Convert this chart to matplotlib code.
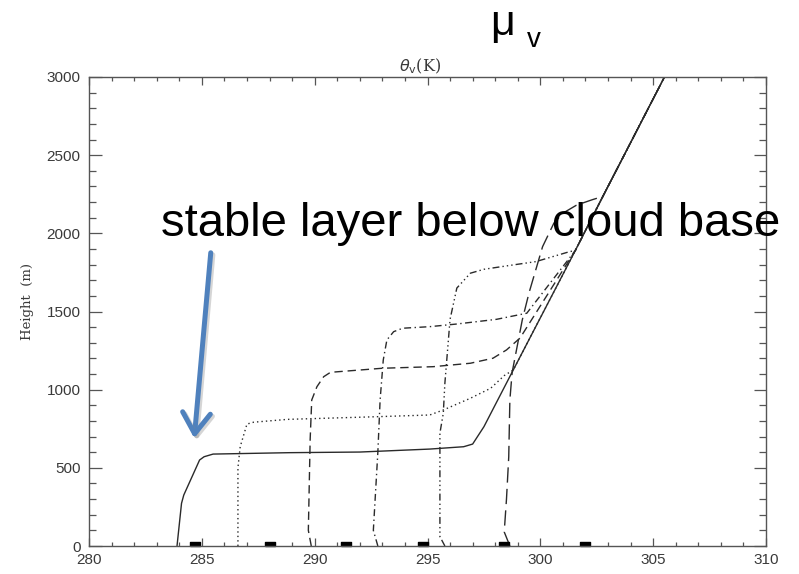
import matplotlib
matplotlib.use('Agg')
import matplotlib.pyplot as plt
from matplotlib.patches import FancyArrowPatch
from matplotlib.path import Path
from matplotlib.ticker import MultipleLocator
import matplotlib.patheffects as pe

# virtual potential temperature profiles (theta_v in K, height in m), one per time
theta_solid = [283.9, 284.1, 284.2, 284.9, 285.1, 285.5, 288.9, 292.0, 295.1, 296.6, 297.0, 297.5]
z_solid = [0, 273, 326, 550, 571, 588, 597, 601, 620, 635, 652, 763]

theta_dot = [286.6, 286.6, 286.6, 286.7, 287.0, 287.3, 288.8, 292.75, 295.1, 295.7, 296.9, 297.8, 298.4]
z_dot = [0, 150, 500, 635, 780, 792, 810, 827, 838, 870, 945, 1009, 1090]

theta_dash = [289.85, 289.72, 289.8, 289.87, 290.1, 290.4, 290.7, 293.0, 295.25, 296.9, 297.9, 298.5, 299.1]
z_dash = [0, 100, 680, 934, 1019, 1083, 1111, 1137, 1147, 1169, 1201, 1254, 1330]

theta_dashdot = [292.8, 292.6, 292.8, 292.9, 293.04, 293.2, 293.5, 293.9, 295.1, 296.3, 298.06, 299.4]
z_dashdot = [0, 100, 600, 934, 1190, 1318, 1371, 1393, 1403, 1420, 1450, 1489]

theta_dash3 = [295.77, 295.55, 295.55, 295.7, 295.77, 296.0, 296.3, 296.9, 297.5, 298.8, 299.8, 301.3]
z_dash3 = [0, 60, 722, 849, 1041, 1450, 1650, 1745, 1770, 1798, 1819, 1883]

theta_long = [298.65, 298.4, 298.5, 298.6, 298.65, 298.75, 299.2, 299.5, 300.1, 300.6, 301.0, 301.6, 302.3]
z_long = [0, 90, 300, 570, 934, 1110, 1446, 1620, 1915, 2065, 2129, 2180, 2215]

# free atmosphere above the inversions, shared by all profiles
theta_free = [298.8, 301.55, 302.77, 305.5]
z_free = [1126, 1890, 2236, 3000]

# small time marks along the bottom axis
theta_marks = [284.7, 288.0, 291.4, 294.8, 298.4, 302.0]

profiles = [
    (theta_solid, z_solid, None),
    (theta_dot, z_dot, (1, 2.2)),
    (theta_dash, z_dash, (6, 3.5)),
    (theta_dashdot, z_dashdot, (5, 2.5, 1, 2.5)),
    (theta_dash3, z_dash3, (5, 2.2, 1, 2.2, 1, 2.2, 1, 2.2)),
    (theta_long, z_long, (11, 4.5)),
]

fig = plt.figure(figsize=(7.99, 5.74), dpi=100)
ax = fig.add_axes([89 / 799, 28 / 574, 677 / 799, 469 / 574])

ink = '#2a2a2a'
for th, z, dashes in profiles:
    xs = list(th)
    ys = list(z)
    for tf, zf in zip(theta_free, z_free):
        if zf > ys[-1]:
            xs.append(tf)
            ys.append(zf)
    line, = ax.plot(xs, ys, color=ink, lw=1.0)
    if dashes is not None:
        line.set_dashes(dashes)

mark = Path([(-1, -0.45), (1, -0.45), (1, 0.45), (-1, 0.45), (-1, -0.45)])
ax.plot(theta_marks, [12] * len(theta_marks), ls='none', marker=mark,
        markersize=7.5, color='black', clip_on=False)

ax.set_xlim(280, 310)
ax.set_ylim(0, 3000)
ax.xaxis.set_major_locator(MultipleLocator(5))
ax.xaxis.set_minor_locator(MultipleLocator(1))
ax.yaxis.set_major_locator(MultipleLocator(500))
ax.yaxis.set_minor_locator(MultipleLocator(100))
ax.tick_params(which='both', direction='in', top=True, right=True, color='#555555', width=0.9)
ax.tick_params(axis='x', which='major', length=6, pad=5)
ax.tick_params(axis='x', which='minor', length=3)
ax.tick_params(axis='y', which='major', length=9, pad=6)
ax.tick_params(axis='y', which='minor', length=5)
for lab in ax.get_xticklabels() + ax.get_yticklabels():
    lab.set_fontfamily('Liberation Sans')
    lab.set_fontsize(11)
    lab.set_color('#3a3a3a')
for sp in ax.spines.values():
    sp.set_color('#555555')
    sp.set_linewidth(1.0)

fig.text(27 / 799, 1 - 302 / 574, 'Height  (m)', rotation=90, ha='center', va='center',
         family='DejaVu Serif', fontsize=9.5, color='#3a3a3a')
fig.text(420 / 799, 1 - 66 / 574, r'$\theta_{\mathrm{v}}$(K)', ha='center', va='center',
         family='DejaVu Serif', fontsize=11.5, color='#3a3a3a')

# header symbol
fig.text(490 / 799, 1 - 35 / 574, 'μ', family='Liberation Sans', fontsize=31,
         ha='left', va='baseline', color='black')
fig.text(527 / 799, 1 - 47 / 574, 'v', family='Liberation Sans', fontsize=20,
         ha='left', va='baseline', color='black')

fig.text(161 / 799, 1 - 236 / 574, 'stable layer below cloud base', family='Liberation Sans',
         fontsize=34, ha='left', va='baseline', color='black')

arrow = FancyArrowPatch((211 / 799, 1 - 250 / 574), (194 / 799, 1 - 441 / 574),
                        transform=fig.transFigure,
                        arrowstyle='->,head_length=0.75,head_width=0.5',
                        mutation_scale=20, lw=3.6, color='#4f81bd',
                        path_effects=[pe.SimpleLineShadow(offset=(1.5, -1.5), shadow_color='#888888', alpha=0.35),
                                      pe.Normal()])
fig.add_artist(arrow)

fig.savefig('out.png', dpi=100)
